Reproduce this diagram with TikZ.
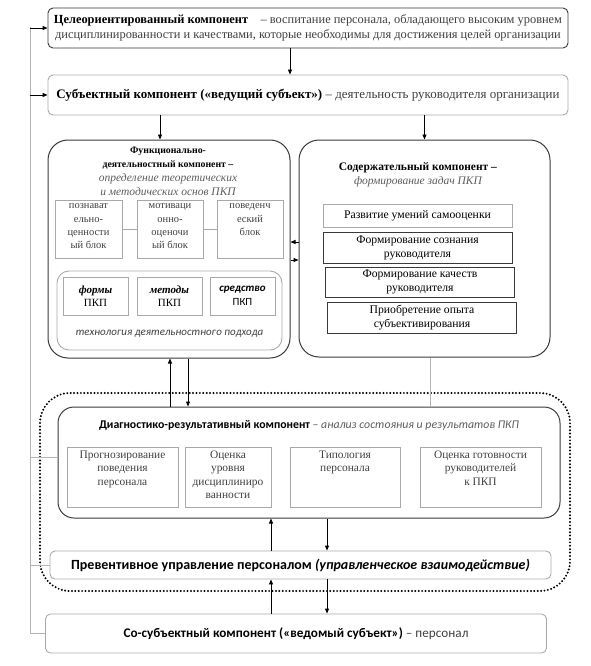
\documentclass[tikz,border=0pt]{standalone}
\usepackage{fontspec}
\setmainfont{Liberation Serif}
\newfontfamily\calibri{Carlito}
\usetikzlibrary{positioning, arrows.meta}
\definecolor{boxdark}{HTML}{3A3A3A}
\definecolor{boxlight}{HTML}{A9A9A9}
\definecolor{railgray}{HTML}{B4B4B4}
\definecolor{textgray}{HTML}{404040}
\definecolor{italgray}{HTML}{5C5C5C}

\begin{document}
\begin{tikzpicture}[x=1pt, y=-1pt, font=\fontsize{11}{13.5}\selectfont,
  bigbox/.style={draw=boxdark, line width=1pt, rounded corners=20pt, inner sep=0pt},
  barbox/.style={draw=#1, line width=0.9pt, rounded corners=5pt, inner sep=0pt, minimum width=501pt},
  blockbox/.style={draw=boxlight, line width=0.8pt, inner sep=0pt, text=textgray, align=center},
  blocktext/.style={inner sep=0pt, text=textgray, align=center},
  taskbox/.style={draw=#1, line width=0.9pt, inner sep=0pt, align=center, minimum width=189pt,
    font=\fontsize{11.7}{14}\selectfont},
  arr/.style={-{Triangle[length=5pt, width=4pt]}, line width=0.9pt},
  rail/.style={draw=railgray, line width=0.8pt}]
  \useasboundingbox (0,0) rectangle (591,666);

  % top components
  \node[barbox=boxdark, minimum width=520pt, minimum height=40pt, align=center,
        font=\fontsize{12.4}{14.5}\selectfont] (goal) at (308,28)
    {\textbf{Целеориентированный компонент}\quad {\color{textgray}– воспитание персонала, обладающего высоким уровнем}\\
     {\color{textgray}дисциплинированности и качествами, которые необходимы для достижения целей организации}};
  \node[barbox=boxlight, minimum width=520pt, minimum height=40pt,
        font=\fontsize{13}{15}\selectfont] (subj) at (308,95)
    {\textbf{Субъектный компонент («ведущий субъект»)} {\color{textgray}– деятельность руководителя организации}};

  % functional component
  \node[bigbox, minimum width=242pt, minimum height=218pt] (func) at (169,249) {};
  \node[align=center, font=\fontsize{9.8}{14}\selectfont] (functitle) at (168,171)
    {\textbf{Функционально-}\\\textbf{деятельностный компонент –}\\
     \textcolor{italgray}{\fontsize{11.5}{14}\selectfont\itshape определение теоретических}\\
     \textcolor{italgray}{\fontsize{11.5}{14}\selectfont\itshape и методических основ ПКП}};
  \node[blockbox, minimum width=67pt, minimum height=58pt] (cogn) at (88.5,229) {};
  \node[blockbox, minimum width=66pt, minimum height=58pt] (motiv) at (170,229) {};
  \node[blockbox, minimum width=66pt, minimum height=58pt] (behav) at (250,229) {};
  \node[blocktext, below=4pt of cogn.north, font=\fontsize{10.5}{13.3}\selectfont] (cogntext)
    {познават\\ельно-\\ценности\\ый блок};
  \node[blocktext, below=4pt of motiv.north, font=\fontsize{10.5}{13.3}\selectfont] (motivtext)
    {мотиваци\\онно-\\оценочи\\ый блок};
  \node[blocktext, below=4pt of behav.north, font=\fontsize{10.5}{13.3}\selectfont] (behavtext)
    {поведенч\\еский\\блок};
  \draw[rail, draw=boxlight] (cogn) -- (motiv);
  \draw[rail, draw=boxlight] (motiv) -- (behav);

  \node[draw=boxlight, line width=0.9pt, rounded corners=12pt, minimum width=225pt, minimum height=79pt] (tech) at (169.5,310.5) {};
  \node[blockbox, minimum width=65pt, minimum height=38pt, text=black] (forms) at (95.5,296)
    {\textbf{\textit{формы}}\\ПКП};
  \node[blockbox, minimum width=65pt, minimum height=38pt, text=black] (methods) at (169.5,296)
    {\textbf{\textit{методы}}\\ПКП};
  \node[blockbox, minimum width=65pt, minimum height=38pt, text=black, font=\calibri\fontsize{11}{13.5}\selectfont] (means) at (242.5,296)
    {\textbf{\textit{средство}}\\ПКП};
  \node[font=\calibri\itshape\fontsize{11}{13}\selectfont, text=textgray] (techtext) at (169.5,334)
    {технология деятельностного подхода};

  % content component
  \node[bigbox, minimum width=251pt, minimum height=217pt] (cont) at (424.5,248.5) {};
  \node[align=center, font=\fontsize{11.5}{14}\selectfont] (conttitle) at (418,175)
    {\textbf{Содержательный компонент –}\\\textcolor{italgray}{\itshape формирование задач ПКП}};
  \node[taskbox=boxlight, minimum height=23pt] (selfassess) at (417.5,215.5) {Развитие умений самооценки};
  \node[taskbox=boxdark, minimum height=31pt] (conscious) at (417.5,247.5) {Формирование сознания\\руководителя};
  \node[taskbox=boxdark, minimum height=30pt] (qualities) at (420,282) {Формирование качеств\\руководителя};
  \node[taskbox=boxdark, minimum height=31pt] (experience) at (422,317.5) {Приобретение опыта\\субъективирования};

  % diagnostic component
  \draw[line width=2.2pt, dash pattern=on 0pt off 3.4pt, line cap=round, rounded corners=30pt]
    (40,393) rectangle (570,591);
  \node[bigbox, rounded corners=16pt, minimum width=502pt, minimum height=111pt] (diag) at (309,462.5) {};
  \node[font=\calibri\fontsize{11.8}{14}\selectfont] (diagtitle) at (309,425)
    {\textbf{Диагностико-результативный компонент} \textcolor{italgray}{– \itshape анализ состояния и результатов ПКП}};
  \node[blockbox, minimum width=111pt, minimum height=60pt] (forecast) at (122.5,477) {};
  \node[blockbox, minimum width=86pt, minimum height=60pt] (discip) at (228,477) {};
  \node[blockbox, minimum width=110pt, minimum height=60pt] (typology) at (345,477) {};
  \node[blockbox, minimum width=121pt, minimum height=60pt] (readiness) at (480.5,477) {};
  \node[blocktext, below=4pt of forecast.north, font=\fontsize{11.4}{13.5}\selectfont] (forecasttext) {Прогнозирование\\поведения\\персонала};
  \node[blocktext, below=4pt of discip.north, font=\fontsize{11.4}{13.5}\selectfont] (disciptext) {Оценка\\уровня\\дисциплиниро\\ванности};
  \node[blocktext, below=4pt of typology.north, font=\fontsize{11.4}{13.5}\selectfont] (typologytext) {Типология\\персонала};
  \node[blocktext, below=4pt of readiness.north, font=\fontsize{11.4}{13.5}\selectfont] (readinesstext) {Оценка готовности\\руководителей\\к ПКП};

  \node[barbox=boxlight, minimum height=28pt, font=\calibri\fontsize{14}{16}\selectfont] (prevent) at (300.5,565)
    {\textbf{Превентивное управление персоналом \textit{(управленческое взаимодействие)}}};
  \node[barbox=boxlight, minimum height=39pt, font=\calibri\fontsize{13.2}{15}\selectfont] (cosubj) at (296,633.5)
    {\textbf{Со-субъектный компонент («ведомый субъект»)} \textcolor{textgray}{– персонал}};

  % connectors
  \draw[arr] ([xshift=-18pt]goal.south) -- ([xshift=-18pt]subj.north);
  \draw[arr] (subj.south -| 160,0) -- ([xshift=-9pt]func.north);
  \draw[arr] (subj.south -| cont.north) -- (cont.north);
  \draw[arr] (cont.west |- 0,242) -- (func.east |- 0,242);
  \draw[arr] (func.east |- 0,260) -- (cont.west |- 0,260);
  \draw[arr] (diag.north -| 170,0) -- (func.south -| 170,0);
  \draw[arr] (func.south -| 188,0) -- (diag.north -| 188,0);
  \draw[rail] ([xshift=5.5pt]cont.south) -- (diag.north -| 430,0);
  \draw[arr] (prevent.north -| 271,0) -- (diag.south -| 271,0);
  \draw[arr] (diag.south -| 327,0) -- (prevent.north -| 327,0);
  \draw[arr] (cosubj.north -| 271,0) -- (prevent.south -| 271,0);
  \draw[arr] (prevent.south -| 327,0) -- (cosubj.north -| 327,0);

  % feedback rail on the left
  \coordinate (rail) at (30,27);
  \draw[rail] (rail) -- (rail |- cosubj.west) -- (cosubj.west);
  \draw[rail] (rail |- 0,457) -- (diag.west |- 0,457);
  \draw[rail] (rail |- prevent.west) -- (prevent.west);
  \draw[arr] (rail |- goal.west) -- (goal.west);
  \draw[arr] (rail |- subj.west) -- (subj.west);
\end{tikzpicture}
\end{document}
